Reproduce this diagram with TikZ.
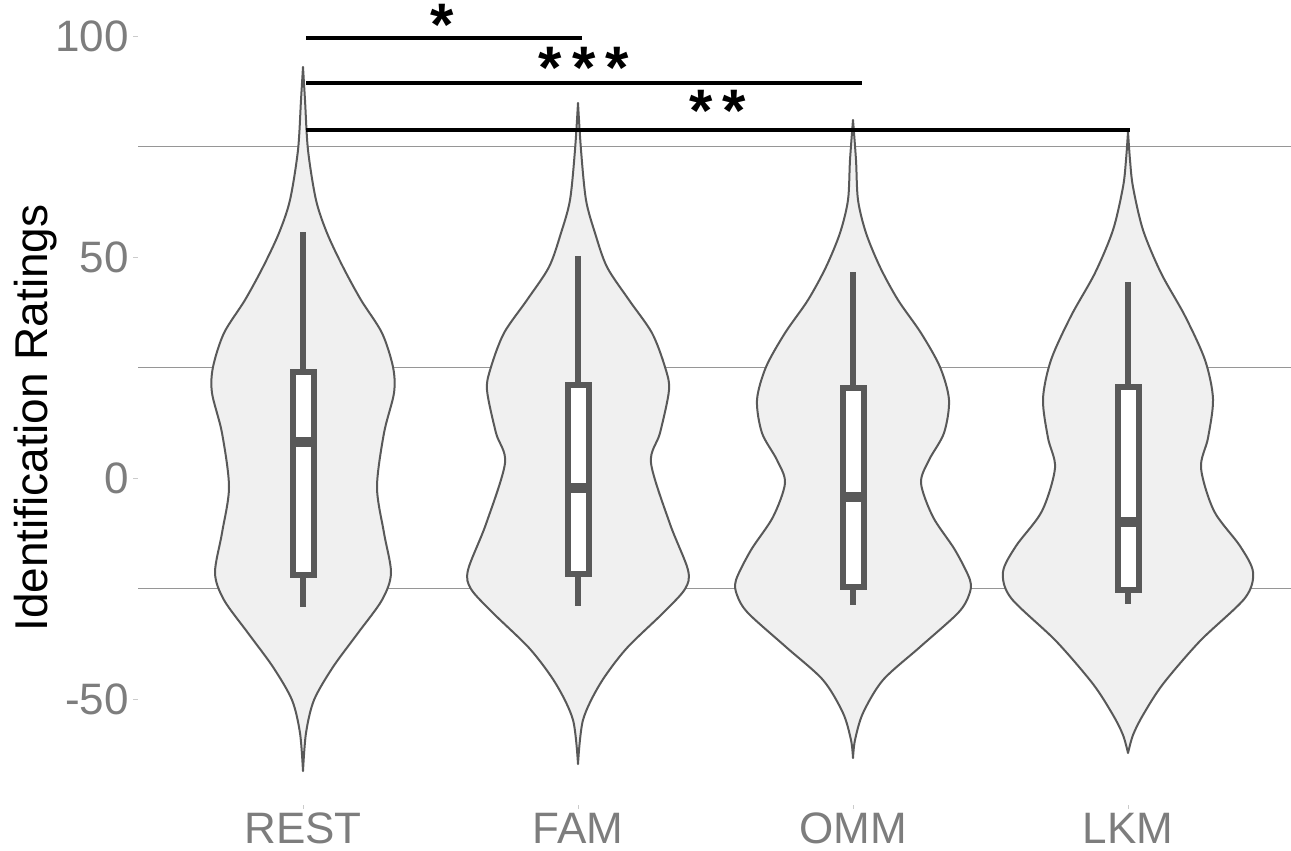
\documentclass[tikz,border=0pt]{standalone}
\usepackage{fontspec}
\setmainfont{Liberation Sans}
\usepackage{tikz}
\usetikzlibrary{positioning}
\definecolor{violingrey}{RGB}{240,240,240}
\definecolor{edgegrey}{RGB}{89,89,89}
\definecolor{gridgrey}{RGB}{150,150,150}
\definecolor{labelgrey}{RGB}{125,125,125}
\tikzstyle{violin_shape} = [
    fill=violingrey, 
    draw=edgegrey, 
    line width=1pt, 
    line join=round
]
\tikzstyle{box_line} = [draw=edgegrey, fill=white, line width=3pt]
\tikzstyle{whisker_line} = [draw=edgegrey, line width=3pt]
\tikzstyle{median_line} = [draw=edgegrey, line width=5pt]
\tikzstyle{grid_line} = [draw=gridgrey, line width=0.7pt]
\tikzstyle{tick_mark} = [draw=gridgrey!50, line width=0.5pt]
\tikzstyle{sig_bar} = [draw=black, line width=2pt]
\tikzstyle{star_label} = [
    font=\fontsize{30}{30}\selectfont\bfseries, 
    anchor=base, 
    inner sep=0pt
]
\tikzstyle{tick_label} = [
    text=labelgrey, 
    font=\fontsize{22}{22}\selectfont, 
    anchor=east, 
    inner sep=0pt
]
\tikzstyle{group_label} = [
    text=labelgrey, 
    font=\fontsize{22}{22}\selectfont, 
    anchor=base, 
    inner sep=0pt
]
\tikzstyle{axis_title} = [
    font=\fontsize{23}{23}\selectfont, 
    rotate=90, 
    anchor=base, 
    inner sep=0pt
]
% violin outline: centre x, then y/half-width pairs from top to bottom
\newcommand{\drawviolin}[2]{%
    \gdef\leftside{}\gdef\rightside{}%
    \foreach \py/\hw in {#2}{%
        \xdef\leftside{\leftside (#1-\hw,\py)}%
        \xdef\rightside{(#1+\hw,\py) \rightside}%
    }%
    \edef\violinpath{\noexpand\draw[violin_shape] plot[smooth] coordinates {\leftside} 
        -- plot[smooth] coordinates {\rightside} -- cycle;}%
    \violinpath
}
% box: centre x, upper whisker, q3, median, q1, lower whisker
\newcommand{\drawbox}[6]{%
    \draw[whisker_line] (#1,#2) -- (#1,#3);
    \draw[whisker_line] (#1,#5) -- (#1,#6);
    \draw[box_line] (#1-10.5,#3) rectangle (#1+10.5,#5);
    \draw[median_line] (#1-12,#4) -- (#1+12,#4);
}
\begin{document}
\begin{tikzpicture}[x=0.5pt, y=-0.5pt]
\useasboundingbox (0,0) rectangle (1291,851);
\fill[white] (0,0) rectangle (1291,851);

% grid and y axis
\foreach \gy in {146.5, 367.5, 588.5}
    \draw[grid_line] (138,\gy) -- (1291,\gy);
\foreach \gy/\lab in {36/100, 257/50, 478/0, 699/-50}{
    \draw[tick_mark] (133,\gy) -- (138,\gy);
    \node[tick_label] (tick\lab) at (129,\gy) {\lab};
}
\node[axis_title] (title) at (47,418) {Identification Ratings};

% violins
\drawviolin{303}{67/0, 100/2, 150/5, 200/13, 233/24, 267/40, 300/58, 333/79, 367/90, 
    393/91, 433/81, 487/74, 533/81, 573/88, 600/79, 633/55, 667/30, 700/11, 733/3, 771/0}
\drawviolin{578}{103/0, 150/3, 200/8, 233/17, 267/29, 300/51, 333/74, 367/87, 390/91, 
    433/82, 463/73, 524/92, 570/110, 589/107, 613/85, 649/48, 684/22, 720/5, 764/0}
\drawviolin{853}{120/0, 160/3, 200/5, 233/13, 267/27, 300/45, 333/68, 367/87, 400/96, 
    433/91, 460/76, 483/68, 517/80, 550/102, 580/117, 595/116, 613/105, 647/67, 680/30, 
    713/10, 740/2, 758/0}
\drawviolin{1128}{132/0, 160/2, 187/5, 230/15, 273/33, 316/57, 360/77, 399/85, 438/80, 
    468/73, 511/86, 546/112, 572/125, 598/117, 641/72, 684/35, 715/15, 735/5, 753/0}

% boxes
\drawbox{303}{232}{372}{442}{575}{607}
\drawbox{578}{256}{385}{488}{574}{606}
\drawbox{853}{272}{388}{497}{587}{605}
\drawbox{1128}{282}{387}{522}{590}{604}

% groups
\foreach \gx/\lab in {303/REST, 578/FAM, 853/OMM, 1128/LKM}{
    \draw[tick_mark] (\gx,805) -- (\gx,809);
    \node[group_label] (\lab) at (\gx,843) {\lab};
}

% significance bars
\coordinate (restA) at (306,38);  \coordinate (famA) at (582,38);
\coordinate (restB) at (306,83);  \coordinate (ommB) at (862,83);
\coordinate (restC) at (306,130); \coordinate (lkmC) at (1130,130);
\draw[sig_bar] (restA) -- (famA);
\draw[sig_bar] (restB) -- (ommB);
\draw[sig_bar] (restC) -- (lkmC);
\node[star_label] (starA) at (442,46) {*};
\node[star_label] (starB) at (584,88) {*\,*\,*};
\node[star_label] (starC) at (718,131) {*\,*};
\end{tikzpicture}
\end{document}
